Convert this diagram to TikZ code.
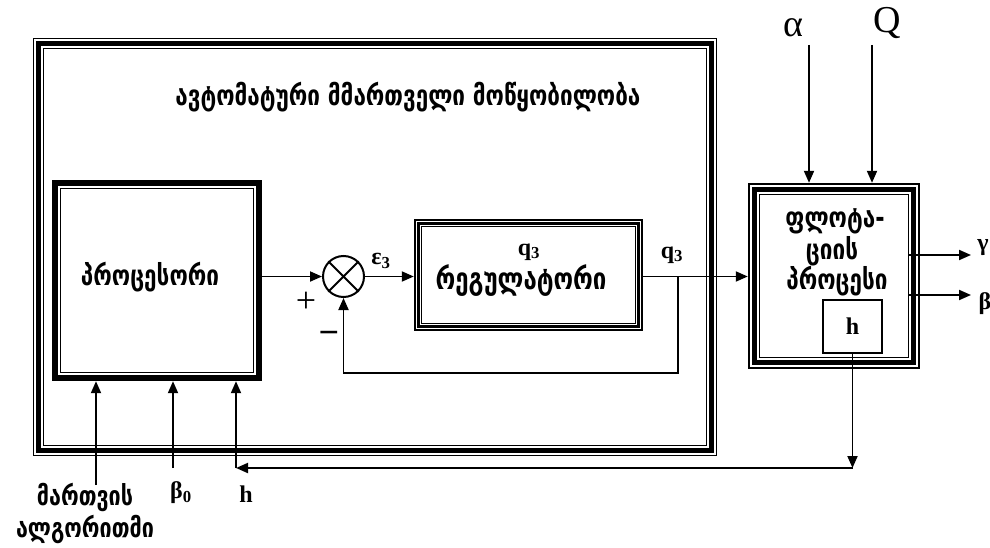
\documentclass[tikz,border=0pt]{standalone}
\usepackage{fontspec}
\usepackage{graphicx}
\setmainfont{Liberation Serif}
\newfontfamily\geo{DejaVu Sans}
\usetikzlibrary{arrows.meta}
\newcommand\myframe[2]{%
  \foreach \d/\w in {#2}{%
    \draw[line width=\w pt] ([shift={(\d,\d)}]#1.north west) rectangle ([shift={(-\d,-\d)}]#1.south east);}}
\newcommand\gs[1]{\scalebox{1}[1.25]{#1}}
\begin{document}
\begin{tikzpicture}[x=1pt,y=-1pt,
  conn/.style={line width=1.9pt},
  arr/.style={conn,-{Triangle[length=12pt,width=10pt]}},
  geotxt/.style={font=\geo\bfseries\fontsize{22.5}{33}\selectfont, align=center, inner sep=0pt},
  lat/.style={font=\bfseries\fontsize{24}{26}\selectfont, inner sep=0pt},
  big/.style={font=\fontsize{38}{40}\selectfont, inner sep=0pt},
  boxshape/.style={rectangle, inner sep=0pt, draw=none}
]
\useasboundingbox (0,0) rectangle (990,548);
% boxes
\node[boxshape, minimum width=684pt, minimum height=418pt] (dev) at (375,247) {};
\myframe{dev}{0.6/1.2, 5.5/5, 10.5/1.2}
\node[boxshape, minimum width=210pt, minimum height=201pt] (proc) at (157,280.5) {};
\myframe{proc}{3/6, 8.5/1.5}
\node[boxshape, minimum width=229pt, minimum height=112pt] (reg) at (528.5,275) {};
\myframe{reg}{1/2, 4.5/3, 7.5/1.2}
\node[boxshape, minimum width=172pt, minimum height=186pt] (fluct) at (834,276) {};
\myframe{fluct}{1/2, 6.5/5, 11.75/1.5}
\node[boxshape, draw, line width=1.5pt, minimum width=59pt, minimum height=53pt, font=\bfseries\fontsize{24}{26}\selectfont] (hbox) at (852.5,326.5) {h};
\node[circle, draw, line width=2pt, minimum size=41pt, inner sep=0pt] (sum) at (343.5,276.5) {};
\draw[line width=2pt] (sum.north west) -- (sum.south east) (sum.north east) -- (sum.south west);
% texts
\node[geotxt] (title) at (408,97) {\gs{ავტომატური მმართველი მოწყობილობა}};
\node[geotxt] (proctxt) at (150,277) {\gs{პროცესორი}};
\node[lat] (qin) at (529,252) {q\textsubscript{3}};
\node[geotxt, font=\geo\bfseries\fontsize{24}{33}\selectfont] (regtxt) at (521,281) {\gs{რეგულატორი}};
\node[geotxt] (fl1) at (835,221) {\gs{ფლოტა-}};
\node[geotxt] (fl2) at (832,251) {\gs{ციის}};
\node[geotxt] (fl3) at (837,281) {\gs{პროცესი}};
\node[lat] (eps) at (381,261) {ε\textsubscript{3}};
\node[lat] (qout) at (672,255) {q\textsubscript{3}};
\node[big, font=\fontsize{36}{40}\selectfont] (plus) at (306,302) {+};
\node[big, font=\bfseries\fontsize{36}{40}\selectfont] (minus) at (329,338) {−};
\node[big, anchor=base] (alpha) at (793,37) {α};
\node[big, anchor=base] (Q) at (887,33) {Q};
\node[lat] (gam) at (983,248) {γ};
\node[lat] (bet) at (985,304) {β};
\node[lat] (b0lab) at (181,493) {β\textsubscript{0}};
\node[lat] (hlab) at (246,494) {h};
\node[geotxt, font=\geo\bfseries\fontsize{21.5}{32}\selectfont] (alg) at (85,513) {\gs{მართვის}\\\gs{ალგორითმი}};
% connectors
\draw[arr] (proc.east |- sum) -- (sum.west);
\draw[arr] (sum.east) -- (reg.west |- sum);
\draw[arr] (reg.east |- sum) -- (fluct.west |- sum);
\coordinate (br) at (678,276.5);
\coordinate (fb) at (678,373);
\draw[arr] (br) -- (fb) -| (sum.south);
\coordinate (aT) at (809,45);
\coordinate (qT) at (872,45);
\draw[arr] (aT) -- (aT |- fluct.north);
\draw[arr] (qT) -- (qT |- fluct.north);
\coordinate (g0) at (908,255);
\coordinate (g1) at (971,255);
\coordinate (e0) at (908,295);
\coordinate (e1) at (971,295);
\draw[arr] (g0) -- (g1);
\draw[arr] (e0) -- (e1);
\coordinate (hc) at (852.5,468);
\coordinate (hl) at (236,468);
\draw[arr] (hbox.south) -- (hc);
\draw[arr] (hc) -- (hl);
\draw[arr] (hl) -- (hl |- proc.south);
\coordinate (m0) at (96,485);
\coordinate (b0) at (173,468);
\draw[arr] (m0) -- (m0 |- proc.south);
\draw[arr] (b0) -- (b0 |- proc.south);
\end{tikzpicture}
\end{document}
